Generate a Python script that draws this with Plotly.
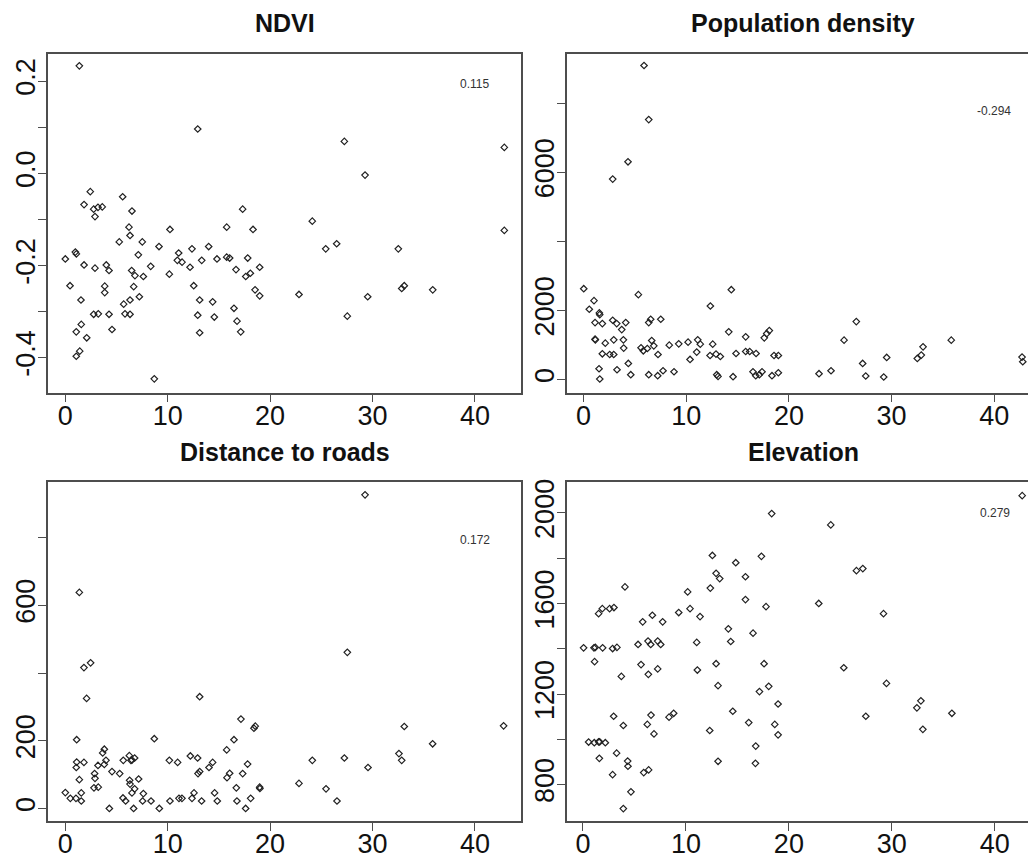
import plotly.graph_objects as go

# ---------------- data ----------------
ndvi_x = [1.37, 12.93, 2.44, 5.60, 1.83, 2.77, 3.19, 3.61, 2.9, 6.51, 17.32, 15.76, 18.33, 6.22, 10.22,
          6.32, 5.27, 7.52, 9.15, 14.0, 12.37, 11.07, 0.98, 1.08, 0.0, 7.13, 10.94, 11.4, 13.32, 14.81,
          15.76, 16.05, 17.81, 18.98, 1.83, 2.9, 4.0, 4.27, 6.48, 6.8, 8.34, 7.62, 10.16, 12.18, 16.67,
          17.62, 18.07, 0.46, 3.85, 3.85, 6.68, 12.54, 18.53, 18.98, 1.53, 6.32, 5.70, 7.23, 13.12, 14.39,
          16.47, 2.77, 3.22, 4.27, 5.83, 6.32, 12.93, 14.55, 16.77, 1.56, 1.07, 4.56, 13.12, 17.13, 2.09,
          1.41, 1.07, 8.69, 24.12, 42.87, 25.43, 26.5, 32.52, 22.82, 29.53, 32.85, 33.1, 35.88, 27.54,
          27.25, 29.27, 42.87]
ndvi_y = [0.233, 0.096, -0.040, -0.051, -0.068, -0.078, -0.074, -0.073, -0.094, -0.082, -0.078, -0.117,
          -0.122, -0.117, -0.122, -0.135, -0.149, -0.149, -0.159, -0.159, -0.164, -0.173, -0.171, -0.175,
          -0.186, -0.177, -0.189, -0.193, -0.189, -0.186, -0.182, -0.184, -0.184, -0.204, -0.199, -0.206,
          -0.199, -0.211, -0.211, -0.222, -0.202, -0.224, -0.219, -0.204, -0.209, -0.224, -0.217, -0.244,
          -0.245, -0.259, -0.246, -0.244, -0.253, -0.266, -0.275, -0.275, -0.284, -0.268, -0.275, -0.279,
          -0.293, -0.306, -0.305, -0.306, -0.305, -0.306, -0.308, -0.312, -0.321, -0.328, -0.344, -0.339,
          -0.346, -0.344, -0.357, -0.386, -0.397, -0.446, -0.104, -0.124, -0.164, -0.153, -0.164, -0.263,
          -0.268, -0.250, -0.244, -0.253, -0.310, 0.069, -0.004, 0.056]

pop_x = [5.89, 6.35, 4.33, 2.84, 0.02, 5.34, 14.39, 1.02, 0.56, 1.54, 1.58, 12.35, 1.12, 1.83, 2.84, 3.23,
         4.11, 3.72, 6.35, 6.54, 7.52, 14.14, 18.09, 17.84, 17.6, 1.12, 1.15, 2.94, 3.88, 2.12, 3.91, 5.6,
         5.82, 6.21, 6.64, 6.84, 8.35, 9.27, 10.18, 11.12, 11.37, 12.58, 15.79, 1.83, 2.55, 2.94, 7.25,
         11.02, 10.37, 12.32, 12.9, 13.32, 14.85, 15.79, 16.18, 16.8, 18.55, 18.97, 1.51, 1.58, 3.26, 4.36,
         4.6, 6.35, 7.22, 7.74, 8.81, 12.97, 13.1, 14.56, 16.5, 16.77, 17.12, 17.38, 18.35, 18.97,
         22.93, 24.1, 26.56, 25.37, 27.18, 27.48, 29.52, 29.23, 32.5, 32.89, 33.06, 35.81, 42.7, 42.77]
pop_y = [9097, 7529, 6307, 5805, 2628, 2455, 2599, 2282, 2033, 1926, 1877, 2128, 1646, 1617, 1715, 1617,
         1646, 1444, 1646, 1744, 1744, 1378, 1415, 1328, 1204, 1167, 1146, 1146, 1146, 1051, 907, 916,
         829, 895, 1126, 973, 993, 1031, 1080, 1146, 1022, 1022, 1233, 742, 722, 722, 722,
         791, 578, 693, 734, 664, 751, 809, 809, 751, 693, 693, 309, 12, 280, 462,
         136, 136, 107, 251, 222, 136, 87, 78, 222, 107, 136, 222, 107, 193,
         165, 251, 1675, 1138, 462, 98, 636, 69, 607, 704, 944, 1138, 647, 511]

road_x = [29.27, 1.37, 27.54, 1.82, 2.47, 2.08, 13.12, 17.15, 18.42, 18.55, 33.1, 42.8, 35.87, 1.11, 8.69,
          16.47, 15.76, 3.81, 3.65, 1.11, 1.07, 1.82, 3.19, 3.97, 3.81, 4.56, 5.31, 5.66, 6.25, 6.41, 6.51,
          6.77, 1.37, 2.86, 2.9, 2.8, 3.22, 6.28, 6.32, 6.51, 6.77, 7.16, 7.62, 1.56, 0.0, 0.49, 1.04, 1.56,
          4.3, 5.63, 5.89, 6.67, 7.55, 8.37, 9.18, 10.16, 10.97, 10.22, 11.1, 11.39, 12.21, 12.92, 12.37,
          12.57, 12.96, 13.12, 13.31, 14.03, 14.39, 14.58, 14.84, 15.79, 16.05, 16.7, 16.76, 17.32, 17.8,
          17.61, 18.1, 18.98, 19.0, 22.82, 24.12, 25.46, 26.53, 27.25, 29.56, 32.58, 32.85]
road_y = [926, 638, 461, 416, 430, 325, 330, 264, 237, 243, 242, 244, 191, 203, 206,
          203, 173, 175, 164, 137, 121, 136, 127, 142, 130, 109, 103, 142, 156, 142, 143,
          149, 85, 103, 89, 61, 63, 83, 72, 46, 58, 87, 44, 46, 47, 30, 30, 22,
          0, 31, 22, 0, 22, 22, 0, 142, 136, 22, 30, 30, 155, 149, 30,
          46, 103, 109, 22, 121, 136, 46, 22, 91, 104, 61, 22, 103, 131,
          0, 30, 63, 59, 74, 142, 58, 22, 149, 121, 162, 142]

elev_x = [42.66, 18.33, 24.07, 12.57, 17.33, 14.84, 12.93, 13.28, 26.56, 27.18, 15.78, 4.08, 12.37, 10.17,
          15.78, 22.9, 10.4, 17.78, 1.52, 1.88, 2.59, 3.01, 9.3, 11.37, 29.19, 6.74, 5.8, 7.74, 14.12, 16.52,
          0.06, 1.07, 1.2, 1.91, 2.88, 3.3, 5.35, 6.32, 6.58, 7.26, 7.55, 11.05, 14.35, 1.13, 5.64, 6.35,
          7.26, 3.73, 11.11, 12.93, 17.59, 25.33, 13.12, 17.14, 18.04, 29.48, 18.95, 32.43, 32.82, 35.83,
          14.55, 2.98, 6.61, 8.36, 8.81, 27.47, 3.92, 6.25, 16.1, 18.63, 6.9, 12.31, 18.95, 33.01, 0.55,
          1.1, 1.52, 1.62, 2.17, 16.78, 3.27, 1.59, 13.12, 16.75, 4.34, 4.37, 2.88, 5.9, 6.38, 4.66, 3.92]
elev_y = [2076, 1997, 1947, 1812, 1808, 1780, 1733, 1710, 1745, 1754, 1718, 1673, 1668, 1651,
          1617, 1600, 1577, 1586, 1555, 1577, 1577, 1582, 1560, 1542, 1555, 1548, 1519, 1519, 1488, 1469,
          1404, 1404, 1406, 1404, 1401, 1406, 1419, 1434, 1419, 1434, 1419, 1428, 1432, 1343, 1330, 1287,
          1311, 1278, 1306, 1334, 1334, 1316, 1237, 1211, 1234, 1247, 1156, 1139, 1170, 1115,
          1124, 1102, 1107, 1098, 1115, 1102, 1061, 1066, 1074, 1066, 1024, 1039, 1020, 1044, 988,
          985, 989, 989, 985, 970, 939, 916, 903, 894, 904, 881, 844, 853, 865, 768, 694]

titles = ["NDVI", "Population density", "Distance to roads", "Elevation"]
corr_labels = ["0.115", "-0.294", "0.172", "0.279"]
corr_pos_y = [0.193, 7788, 792, 1999]
corr_pos_x = [40, 40, 40, 40]

x_ticks = [0, 10, 20, 30, 40]
ndvi_ticks = [-0.4, -0.3, -0.2, -0.1, 0.0, 0.1, 0.2]
ndvi_ticktext = ["-0.4", "", "-0.2", "", "0.0", "", "0.2"]
pop_ticks = [0, 2000, 4000, 6000, 8000]
pop_ticktext = ["0", "2000", "", "6000", ""]
road_ticks = [0, 200, 400, 600, 800]
road_ticktext = ["0", "200", "", "600", ""]
elev_ticks = [800, 1000, 1200, 1400, 1600, 1800, 2000]
elev_ticktext = ["800", "", "1200", "", "1600", "", "2000"]

# ---------------- figure ----------------
OFF = 8                      # page body margin of the html
W, H = 1036 - OFF, 859 - OFF
FONT = "Liberation Sans, Arial, sans-serif"
AXC = "#4d4d4d"

def px_x(p):
    return (p - OFF) / W

def px_y(p):
    return 1 - (p - OFF) / H

fig = go.Figure()

series = [(ndvi_x, ndvi_y), (pop_x, pop_y), (road_x, road_y), (elev_x, elev_y)]
for i, (xs, ys) in enumerate(series):
    suffix = "" if i == 0 else str(i + 1)
    fig.add_trace(go.Scatter(
        x=xs, y=ys, mode="markers", xaxis="x" + suffix, yaxis="y" + suffix,
        marker=dict(symbol="diamond-open", size=5, color="#222222",
                    line=dict(width=1.2, color="#222222")),
        showlegend=False, hoverinfo="skip"))

left_dom = [px_x(48), px_x(521)]
right_dom = [px_x(567), 1.0]
top_dom = [px_y(391), px_y(51)]
bot_dom = [px_y(821), px_y(481)]

x_ranges = [[-1.69, 44.5], [-1.61, 44.06], [-1.69, 44.5], [-1.55, 44.0]]
y_ranges = [[-0.476, 0.259], [-384, 9435], [-37.4, 963], [638.7, 2135]]
y_tv = [ndvi_ticks, pop_ticks, road_ticks, elev_ticks]
y_tt = [ndvi_ticktext, pop_ticktext, road_ticktext, elev_ticktext]
xdoms = [left_dom, right_dom, left_dom, right_dom]
ydoms = [top_dom, top_dom, bot_dom, bot_dom]

layout = dict(
    width=W, height=H, margin=dict(l=0, r=0, t=0, b=0),
    paper_bgcolor="white", plot_bgcolor="white",
    font=dict(family=FONT, color="#111111"),
    showlegend=False,
)
for i in range(4):
    suffix = "" if i == 0 else str(i + 1)
    right_panel = i in (1, 3)
    layout["xaxis" + suffix] = dict(
        domain=xdoms[i], range=x_ranges[i], anchor="y" + suffix,
        tickmode="array", tickvals=x_ticks, ticktext=[str(v) for v in x_ticks],
        ticks="outside", ticklen=8, tickwidth=1, tickcolor=AXC,
        showline=True, linecolor=AXC, linewidth=1.5, mirror=True,
        showgrid=False, zeroline=False, ticklabelstandoff=-10,
        tickfont=dict(size=27, color="#111111", family=FONT),
    )
    layout["yaxis" + suffix] = dict(
        domain=ydoms[i], range=y_ranges[i], anchor="x" + suffix,
        tickmode="array", tickvals=y_tv[i], ticktext=y_tt[i], tickangle=-90,
        ticks="outside", ticklen=8, tickwidth=1, tickcolor=AXC,
        showline=True, linecolor=AXC, linewidth=1.5, mirror=not right_panel,
        showgrid=False, zeroline=False, ticklabelstandoff=-8,
        tickfont=dict(size=27, color="#111111", family=FONT),
    )

annotations = []
title_centers = [(px_x(284.5), px_y(20)), (px_x(803), px_y(20)),
                 (px_x(284.5), px_y(451)), (px_x(803), px_y(451))]
for i, t in enumerate(titles):
    annotations.append(dict(
        text="<b>%s</b>" % t, x=title_centers[i][0], y=title_centers[i][1],
        xref="paper", yref="paper", xanchor="center", yanchor="middle",
        showarrow=False, font=dict(size=25, color="#111111", family=FONT)))
for i in range(4):
    suffix = "" if i == 0 else str(i + 1)
    annotations.append(dict(
        text=corr_labels[i], x=corr_pos_x[i], y=corr_pos_y[i],
        xref="x" + suffix, yref="y" + suffix, xanchor="center", yanchor="middle",
        showarrow=False, font=dict(size=12, color="#333333", family=FONT)))
layout["annotations"] = annotations

fig.update_layout(**layout)
fig.write_html("out.html")
